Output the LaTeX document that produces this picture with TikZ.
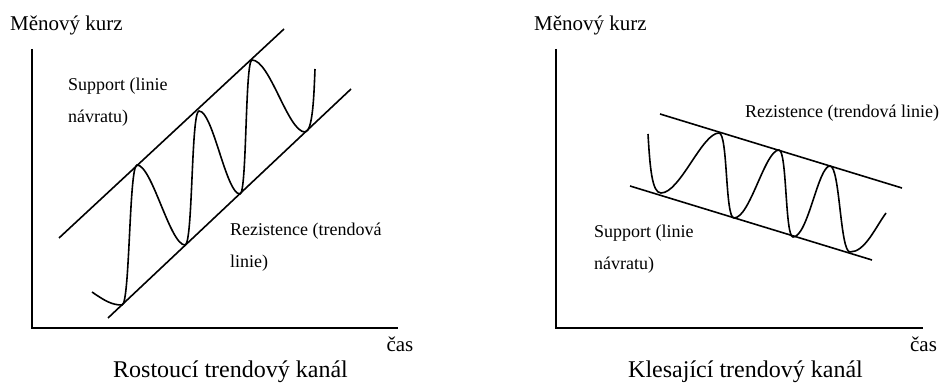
\documentclass[tikz,border=0pt]{standalone}
\usepackage{fontspec}
\setmainfont{Liberation Serif}
\begin{document}
\begin{tikzpicture}[x=1pt,y=1pt,
  ln/.style={line width=1.6pt},
  axlabel/.style={inner sep=0pt,font=\fontsize{21}{25}\selectfont},
  ttl/.style={inner sep=0pt,font=\fontsize{24}{28}\selectfont},
  lbl/.style={inner sep=0pt,align=left,font=\fontsize{18}{32}\selectfont}]
\useasboundingbox (0,0) rectangle (944,383);
% ---------- left panel ----------
\coordinate (LyTop) at (32,334);
\coordinate (LO) at (32,55);
\coordinate (LxEnd) at (398,55);
\draw[ln] (LyTop) -- (LO) -- (LxEnd);
\coordinate (LU1) at (59,145);
\coordinate (LU2) at (284,354);
\coordinate (LL1) at (108,65);
\coordinate (LL2) at (351,294);
\draw[ln] (LU1) -- (LU2);
\draw[ln] (LL1) -- (LL2);
\draw[ln] (92,91) .. controls (105,82) and (112,78) .. (122,78)
  .. controls (130,78) and (129,218) .. (137,218)
  .. controls (152,218) and (170,138) .. (185,138)
  .. controls (193,138) and (191,272) .. (199,272)
  .. controls (213,272) and (226,189) .. (240,189)
  .. controls (247,189) and (245,323) .. (252,323)
  .. controls (270,323) and (288,251) .. (305,251)
  .. controls (313,251) and (314,290) .. (315,314);
\node[axlabel,anchor=west] (Lky) at (10,358) {Měnový kurz};
\node[axlabel] (Lcas) at (400,39) {čas};
\node[ttl] (Ltitle) at (230.5,11) {Rostoucí trendový kanál};
\node[lbl,anchor=west] (Lsup) at (68,281) {Support (linie\\návratu)};
\node[lbl,anchor=west] (Lres) at (230,136) {Rezistence (trendová\\linie)};
% ---------- right panel ----------
\coordinate (RyTop) at (556,334);
\coordinate (RO) at (556,55);
\coordinate (RxEnd) at (923,55);
\draw[ln] (RyTop) -- (RO) -- (RxEnd);
\coordinate (RU1) at (660,269);
\coordinate (RU2) at (902,195);
\coordinate (RL1) at (630,197);
\coordinate (RL2) at (872,123);
\draw[ln] (RU1) -- (RU2);
\draw[ln] (RL1) -- (RL2);
\draw[ln] (648,249) .. controls (650,215) and (652,190) .. (661,190)
  .. controls (680,190) and (702,250) .. (719,250)
  .. controls (728,250) and (725,165) .. (734,165)
  .. controls (750,165) and (765,233) .. (779,233)
  .. controls (787,233) and (785,146) .. (793,146)
  .. controls (808,146) and (818,217) .. (830,217)
  .. controls (840,217) and (840,131) .. (850,131)
  .. controls (865,131) and (875,155) .. (886,170);
\node[axlabel,anchor=west] (Rky) at (534,358) {Měnový kurz};
\node[axlabel] (Rcas) at (923.5,39) {čas};
\node[ttl] (Rtitle) at (745.5,11) {Klesající trendový kanál};
\node[lbl,anchor=west] (Rres) at (745,270) {Rezistence (trendová linie)};
\node[lbl,anchor=west] (Rsup) at (594,134) {Support (linie\\návratu)};
\end{tikzpicture}
\end{document}
